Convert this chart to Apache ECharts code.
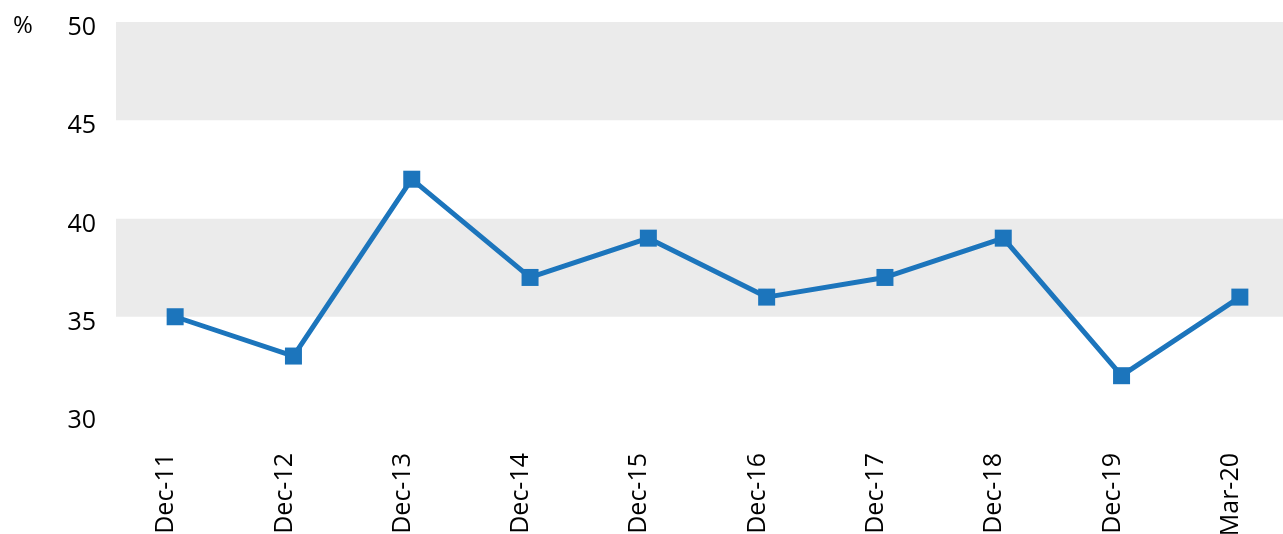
<!DOCTYPE html>
<html>
<head>
<meta charset="utf-8">
<script src="https://cdn.jsdelivr.net/npm/echarts@6/dist/echarts.min.js"></script>
<style>html,body{margin:0;padding:0;background:#fff;}#c{width:1283px;height:534px;}</style>
</head>
<body>
<div id="c"></div>
<script>
const categories = ['Dec-11','Dec-12','Dec-13','Dec-14','Dec-15','Dec-16','Dec-17','Dec-18','Dec-19','Mar-20'];
const values = [35, 33, 42, 37, 39, 36, 37, 39, 32, 36];
const yMin = 30, yMax = 50, yStep = 5;
const unitLabel = '%';

const chart = echarts.init(document.getElementById('c'), null, {renderer: 'canvas'});
const font = '"Open Sans", "Noto Sans", sans-serif';
chart.setOption({
  animation: false,
  backgroundColor: '#ffffff',
  graphic: [{
    type: 'text', left: 13, top: 14,
    style: {text: unitLabel, fontSize: 24, fontFamily: font, fill: '#000'}
  }],
  grid: {left: 116, top: 22, width: 1183, height: 393, outerBoundsMode: 'none', containLabel: false},
  xAxis: {
    type: 'category', data: categories, boundaryGap: true,
    axisLine: {show: false}, axisTick: {show: false}, splitLine: {show: false},
    axisLabel: {rotate: 90, margin: 38, fontSize: 25, fontFamily: font, color: '#000', interval: 0,
                verticalAlign: 'bottom', lineHeight: 18}
  },
  yAxis: {
    type: 'value', min: yMin, max: yMax, interval: yStep,
    axisLine: {show: false}, axisTick: {show: false}, splitLine: {show: false},
    splitArea: {show: true, areaStyle: {color: ['#ffffff', '#ebebeb']}},
    axisLabel: {margin: 20, fontSize: 25, fontFamily: font, color: '#000', verticalAlign: 'top', lineHeight: 12}
  },
  series: [{
    type: 'line', data: values,
    symbol: 'rect', symbolSize: 17,
    lineStyle: {color: '#1c75bc', width: 5},
    itemStyle: {color: '#1c75bc'}
  }]
});
</script>
</body>
</html>
